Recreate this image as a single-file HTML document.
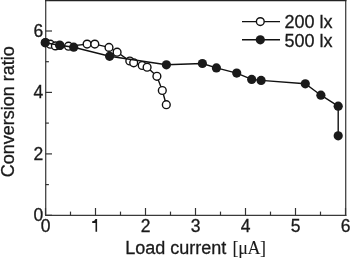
<!DOCTYPE html>
<html><head><meta charset="utf-8"><style>
html,body{margin:0;padding:0;background:#fff;}
body{width:350px;height:258px;overflow:hidden;}
svg{display:block;will-change:transform;}
.t{font-family:"Liberation Sans",sans-serif;font-size:17.5px;fill:#1a1a1a;stroke:#1a1a1a;stroke-width:0.3px;}
</style></head><body>
<svg width="350" height="258" viewBox="0 0 350 258">
<line x1="45.7" y1="0" x2="45.7" y2="216" stroke="#444" stroke-width="1.3"/>
<line x1="345.7" y1="0" x2="345.7" y2="216" stroke="#444" stroke-width="1.3"/>
<line x1="45" y1="215.35" x2="346.4" y2="215.35" stroke="#3a3a3a" stroke-width="1.3"/>
<line x1="45" y1="0.6" x2="346.4" y2="0.6" stroke="#222" stroke-width="1.4"/>
<line x1="45.5" y1="215.3" x2="45.5" y2="208.0" stroke="#333" stroke-width="1.2"/>
<line x1="70.5" y1="215.3" x2="70.5" y2="211.6" stroke="#333" stroke-width="1.2"/>
<line x1="95.5" y1="215.3" x2="95.5" y2="208.0" stroke="#333" stroke-width="1.2"/>
<line x1="120.5" y1="215.3" x2="120.5" y2="211.6" stroke="#333" stroke-width="1.2"/>
<line x1="145.5" y1="215.3" x2="145.5" y2="208.0" stroke="#333" stroke-width="1.2"/>
<line x1="170.5" y1="215.3" x2="170.5" y2="211.6" stroke="#333" stroke-width="1.2"/>
<line x1="195.5" y1="215.3" x2="195.5" y2="208.0" stroke="#333" stroke-width="1.2"/>
<line x1="220.5" y1="215.3" x2="220.5" y2="211.6" stroke="#333" stroke-width="1.2"/>
<line x1="245.5" y1="215.3" x2="245.5" y2="208.0" stroke="#333" stroke-width="1.2"/>
<line x1="270.5" y1="215.3" x2="270.5" y2="211.6" stroke="#333" stroke-width="1.2"/>
<line x1="295.5" y1="215.3" x2="295.5" y2="208.0" stroke="#333" stroke-width="1.2"/>
<line x1="320.5" y1="215.3" x2="320.5" y2="211.6" stroke="#333" stroke-width="1.2"/>
<line x1="345.5" y1="215.3" x2="345.5" y2="208.0" stroke="#333" stroke-width="1.2"/>
<line x1="45.5" y1="215.3" x2="52.0" y2="215.3" stroke="#333" stroke-width="1.2"/>
<line x1="45.5" y1="184.6" x2="48.9" y2="184.6" stroke="#333" stroke-width="1.2"/>
<line x1="45.5" y1="153.9" x2="52.0" y2="153.9" stroke="#333" stroke-width="1.2"/>
<line x1="45.5" y1="123.1" x2="48.9" y2="123.1" stroke="#333" stroke-width="1.2"/>
<line x1="45.5" y1="92.4" x2="52.0" y2="92.4" stroke="#333" stroke-width="1.2"/>
<line x1="45.5" y1="61.7" x2="48.9" y2="61.7" stroke="#333" stroke-width="1.2"/>
<line x1="45.5" y1="31.0" x2="52.0" y2="31.0" stroke="#333" stroke-width="1.2"/>
<line x1="45.5" y1="0.3" x2="48.9" y2="0.3" stroke="#333" stroke-width="1.2"/>
<text x="43.2" y="221.0" text-anchor="end" class="t">0</text>
<text x="43.2" y="159.6" text-anchor="end" class="t">2</text>
<text x="43.2" y="98.1" text-anchor="end" class="t">4</text>
<text x="43.2" y="36.7" text-anchor="end" class="t">6</text>
<text x="45.5" y="232" text-anchor="middle" class="t">0</text>
<path d="M95.5,218.9 L97.1,218.9 L97.1,231.7 L95.5,231.7 L95.5,222.9 L92.2,222.9 L92.2,221.3 Q94.7,221.0 95.5,218.9 Z" fill="#1a1a1a"/>
<text x="145.5" y="232" text-anchor="middle" class="t">2</text>
<text x="195.5" y="232" text-anchor="middle" class="t">3</text>
<text x="245.5" y="232" text-anchor="middle" class="t">4</text>
<text x="295.5" y="232" text-anchor="middle" class="t">5</text>
<text x="345.5" y="232" text-anchor="middle" class="t">6</text>
<text x="125.3" y="254" class="t" style="font-size:18px">Load current <tspan dx="1.2" style="font-family:'Liberation Serif',serif;letter-spacing:-0.4px;stroke-width:0.1px">[&#956;A]</tspan></text>
<text transform="translate(13.8,177.2) rotate(-90)" class="t" style="font-size:18px">Conversion ratio</text>
<polyline points="45.5,42.6 50.3,44.2 55.4,45.9 60.0,45.5 68.5,46.2 87.1,44.1 94.8,44.1 109.0,47.4 117.1,52.2 129.8,61.0 133.7,62.8 142.2,65.5 147.1,67.2 156.9,76.3 162.3,90.5 166.3,104.7" fill="none" stroke="#111" stroke-width="1.4"/>
<circle cx="45.5" cy="42.6" r="3.9" fill="#fff" stroke="#111" stroke-width="1.4"/>
<circle cx="50.3" cy="44.2" r="3.9" fill="#fff" stroke="#111" stroke-width="1.4"/>
<circle cx="55.4" cy="45.9" r="3.9" fill="#fff" stroke="#111" stroke-width="1.4"/>
<circle cx="60.0" cy="45.5" r="3.9" fill="#fff" stroke="#111" stroke-width="1.4"/>
<circle cx="68.5" cy="46.2" r="3.9" fill="#fff" stroke="#111" stroke-width="1.4"/>
<circle cx="87.1" cy="44.1" r="3.9" fill="#fff" stroke="#111" stroke-width="1.4"/>
<circle cx="94.8" cy="44.1" r="3.9" fill="#fff" stroke="#111" stroke-width="1.4"/>
<circle cx="109.0" cy="47.4" r="3.9" fill="#fff" stroke="#111" stroke-width="1.4"/>
<circle cx="117.1" cy="52.2" r="3.9" fill="#fff" stroke="#111" stroke-width="1.4"/>
<circle cx="129.8" cy="61.0" r="3.9" fill="#fff" stroke="#111" stroke-width="1.4"/>
<circle cx="133.7" cy="62.8" r="3.9" fill="#fff" stroke="#111" stroke-width="1.4"/>
<circle cx="142.2" cy="65.5" r="3.9" fill="#fff" stroke="#111" stroke-width="1.4"/>
<circle cx="147.1" cy="67.2" r="3.9" fill="#fff" stroke="#111" stroke-width="1.4"/>
<circle cx="156.9" cy="76.3" r="3.9" fill="#fff" stroke="#111" stroke-width="1.4"/>
<circle cx="162.3" cy="90.5" r="3.9" fill="#fff" stroke="#111" stroke-width="1.4"/>
<circle cx="166.3" cy="104.7" r="3.9" fill="#fff" stroke="#111" stroke-width="1.4"/>
<polyline points="45.2,42.8 59.7,45.2 73.7,47.2 109.6,56.3 166.4,64.8 202.4,63.5 216.4,67.9 236.7,73.1 251.7,79.4 261.1,80.4 305.3,83.8 320.9,95.2 338.2,106.2 338.2,135.8" fill="none" stroke="#111" stroke-width="1.4"/>
<circle cx="45.2" cy="42.8" r="4.6" fill="#1a1a1a"/>
<circle cx="59.7" cy="45.2" r="4.6" fill="#1a1a1a"/>
<circle cx="73.7" cy="47.2" r="4.6" fill="#1a1a1a"/>
<circle cx="109.6" cy="56.3" r="4.6" fill="#1a1a1a"/>
<circle cx="166.4" cy="64.8" r="4.6" fill="#1a1a1a"/>
<circle cx="202.4" cy="63.5" r="4.6" fill="#1a1a1a"/>
<circle cx="216.4" cy="67.9" r="4.6" fill="#1a1a1a"/>
<circle cx="236.7" cy="73.1" r="4.6" fill="#1a1a1a"/>
<circle cx="251.7" cy="79.4" r="4.6" fill="#1a1a1a"/>
<circle cx="261.1" cy="80.4" r="4.6" fill="#1a1a1a"/>
<circle cx="305.3" cy="83.8" r="4.6" fill="#1a1a1a"/>
<circle cx="320.9" cy="95.2" r="4.6" fill="#1a1a1a"/>
<circle cx="338.2" cy="106.2" r="4.6" fill="#1a1a1a"/>
<circle cx="338.2" cy="135.8" r="4.6" fill="#1a1a1a"/>
<line x1="242" y1="21.6" x2="280" y2="21.6" stroke="#111" stroke-width="1.4"/>
<circle cx="260.3" cy="21.6" r="3.9" fill="#fff" stroke="#111" stroke-width="1.4"/>
<line x1="242" y1="39.8" x2="280" y2="39.8" stroke="#111" stroke-width="1.4"/>
<circle cx="260.3" cy="39.8" r="4.6" fill="#1a1a1a"/>
<text x="284.4" y="28.2" class="t" style="font-size:18px">200 lx</text>
<text x="284.4" y="46.5" class="t" style="font-size:18px">500 lx</text>
</svg>
</body></html>
